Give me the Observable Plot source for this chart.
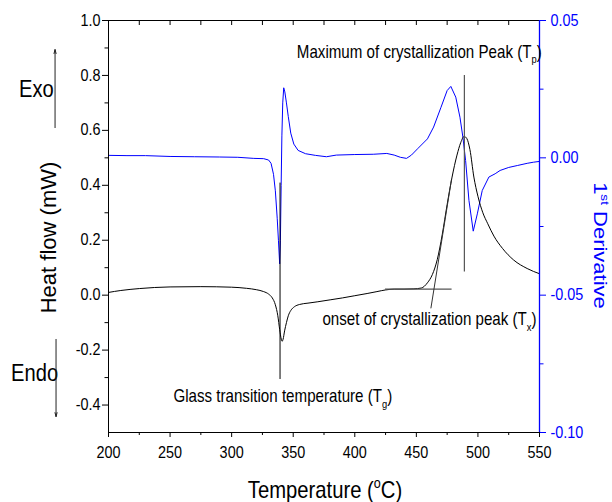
<!DOCTYPE html>
<html><head><meta charset="utf-8">
<script src="https://cdn.jsdelivr.net/npm/d3@7"></script>
<script src="https://cdn.jsdelivr.net/npm/@observablehq/plot@0.6"></script>
<style>
html,body{margin:0;padding:0;background:#fff;}
#chart{width:612px;height:502px;overflow:hidden;}
</style></head><body><div id="chart"></div>
<script>
// ---- data: DSC heat flow (left axis, mW) ----
const heatT = [200,210,225,250,275,300,312,320,326,330,333,335.5,337.5,339,340.3,341,341.8,343,344.5,346,348,351,355,362,370,380,390,400,410,418,425,432,440,448,454,459,463,467,471,475,479,483,486,488.8,491,493.5,496.7,500,504,508,513,520,529,540,550];
const heatV = [0.010,0.017,0.024,0.030,0.031,0.029,0.025,0.020,0.013,0.004,-0.010,-0.035,-0.075,-0.125,-0.160,-0.168,-0.160,-0.130,-0.100,-0.075,-0.056,-0.042,-0.034,-0.029,-0.024,-0.017,-0.010,-0.002,0.006,0.013,0.019,0.022,0.022,0.023,0.026,0.045,0.075,0.130,0.220,0.330,0.430,0.510,0.555,0.578,0.570,0.530,0.430,0.360,0.300,0.260,0.215,0.170,0.128,0.097,0.078];
// ---- data: 1st derivative (right axis) ----
const derivT = [200,215,230,250,270,290,305,318,326,330,332,334,335.5,337,338,339,339.6,340.2,340.8,341.5,342.3,343.2,344.5,346,348,350.5,354,360,368,377,385,400,415,426,432,437,442,446,451,459,464,470,475,478,482,485.4,487.8,490,492.7,496.2,499.5,503.5,508.9,514,518,525,532,540,545,550];
const derivV = [0.0009,0.0008,0.0008,0.0005,0.0004,0.0003,0.0002,-0.0002,-0.0003,-0.0008,-0.002,-0.006,-0.012,-0.022,-0.030,-0.0386,-0.030,-0.010,0.008,0.020,0.0255,0.024,0.020,0.015,0.009,0.005,0.0027,0.0015,0.0009,0.0004,0.0010,0.0012,0.0013,0.0016,0.0010,0.0002,-0.0002,0.0010,0.0033,0.0069,0.0112,0.0184,0.0245,0.026,0.0221,0.0148,0.0075,-0.001,-0.0155,-0.0267,-0.0204,-0.0119,-0.007,-0.0058,-0.0046,-0.0035,-0.0028,-0.0020,-0.0016,-0.0013];

// ---- axes ----
const xDomain = [200, 550];
const yDomain = [-0.5, 1.0];
const rightDomain = [-0.10, 0.05];
const xTicks = [200,250,300,350,400,450,500,550];
const xMinorTicks = [225,275,325,375,425,475,525];
const topTicks = [225,250,275,300,325,350,375,400,425,450,475,500,525];
const leftTicks = [-0.4,-0.2,0,0.2,0.4,0.6,0.8,1.0];
const leftTickLabels = ["-0.4","-0.2","0.0","0.2","0.4","0.6","0.8","1.0"];
const leftMinorTicks = [-0.3,-0.1,0.1,0.3,0.5,0.7,0.9];
const rightTicks = [0.05,0.00,-0.05,-0.10];
const rightTickLabels = ["0.05","0.00","-0.05","-0.10"];
const rightMinorTicks = [0.025,-0.025,-0.075];

// ---- annotations ----
const tgLine = [{x: 339.3, y1: -0.307, y2: 0.408}];
const tpLine = [{x: 489, y1: 0.084, y2: 0.80}];
const baselineSeg = [{x1: 424.5, x2: 478.6, y1: 0.022, y2: 0.022}];
const tangentSeg = [{x1: 461.8, x2: 478.5, y1: -0.048, y2: 0.42}];
const annotations = [
  {x: 352.9, y: 0.865, text: "Maximum of crystallization Peak (T_{p})"},
  {x: 373.7, y: -0.110, text: "onset of crystallization peak (T_{x})"},
  {x: 252.7, y: -0.390, text: "Glass transition temperature (T_{g})"}
];
const sideLabels = [
  {x: 127.4, y: 0.72, text: "Exo"},
  {x: 120.9, y: -0.311, text: "Endo"}
];
const arrows = [
  {x: 156.6, y1: 0.61, y2: 0.894},
  {x: 157.4, y1: -0.161, y2: -0.442}
];
const xTitle = [{x: 375.8, y: -0.737, text: "Temperature (^{o}C)"}];
const yTitle = [{x: 157.4, y: 0.21, text: "Heat flow (mW)"}];
const y2Title = [{x: 594.0, y: 0.181, text: "1^{st} Derivative"}];

const BLUE = "#0000ff";
// map right-axis (derivative) values onto the left-axis range
const d2v = d => yDomain[0] + (d - rightDomain[0]) / (rightDomain[1] - rightDomain[0]) * (yDomain[1] - yDomain[0]);

const heat = heatT.map((t, i) => ({t, v: heatV[i]}));
const deriv = derivT.map((t, i) => ({t, v: d2v(derivV[i])}));

const W = 612, H = 502, mL = 108, mR = 73, mT = 20, mB = 70;
const frameH = H - mT - mB;
const TICK_FS = 16;

const chart = Plot.plot({
  width: W, height: H,
  marginLeft: mL, marginRight: mR, marginTop: mT, marginBottom: mB,
  style: {fontFamily: "'Liberation Sans', Arial, sans-serif", background: "#fff", color: "#000", overflow: "visible"},
  x: {domain: xDomain, axis: null},
  y: {domain: yDomain, axis: null},
  marks: [
    // curves
    Plot.line(deriv, {x: "t", y: "v", stroke: BLUE, strokeWidth: 1}),
    Plot.line(heat, {x: "t", y: "v", stroke: "#000", strokeWidth: 1, curve: "monotone-x"}),
    // annotation lines
    Plot.ruleX(tgLine, {x: "x", y1: "y1", y2: "y2", stroke: "#000", strokeWidth: 1}),
    Plot.ruleX(tpLine, {x: "x", y1: "y1", y2: "y2", stroke: "#555", strokeWidth: 1.2}),
    Plot.link(baselineSeg, {x1: "x1", x2: "x2", y1: "y1", y2: "y2", stroke: "#555", strokeWidth: 1.2}),
    Plot.link(tangentSeg, {x1: "x1", x2: "x2", y1: "y1", y2: "y2", stroke: "#333", strokeWidth: 1}),
    // frame
    Plot.ruleY([yDomain[1]], {stroke: "#000"}),
    Plot.ruleY([yDomain[0]], {stroke: "#000"}),
    Plot.ruleX([xDomain[0]], {stroke: "#000"}),
    Plot.ruleX([xDomain[1]], {stroke: BLUE, strokeWidth: 1.3}),
    // bottom axis
    Plot.axisX({ticks: xTicks, tickSize: 5, tickPadding: 9, tickFormat: d => String(d), fontSize: TICK_FS, label: null, stroke: "#000", fill: "#000"}),
    Plot.axisX({ticks: xMinorTicks, tickSize: 3, text: null, label: null, stroke: "#000"}),
    // top inward ticks
    Plot.tickX(topTicks, {x: d => d, insetBottom: frameH - 5, stroke: "#000"}),
    // left axis
    Plot.axisY({ticks: leftTicks, tickSize: 6, tickPadding: 2, tickFormat: v => leftTickLabels[leftTicks.findIndex(t => Math.abs(t - v) < 1e-9)], fontSize: TICK_FS, label: null, stroke: "#000", fill: "#000"}),
    Plot.axisY({ticks: leftMinorTicks, tickSize: 3.5, text: null, label: null, stroke: "#000"}),
    // right axis (derivative)
    Plot.axisY({anchor: "right", ticks: rightTicks.map(d2v), tickSize: 6, tickPadding: 5, tickFormat: v => rightTickLabels[rightTicks.findIndex(t => Math.abs(d2v(t) - v) < 1e-9)], fontSize: TICK_FS, label: null, stroke: BLUE, fill: BLUE}),
    Plot.axisY({anchor: "right", ticks: rightMinorTicks.map(d2v), tickSize: 3.5, text: null, label: null, stroke: BLUE}),
    // texts
    Plot.text(annotations, {x: "x", y: "y", text: "text", textAnchor: "start", lineAnchor: "bottom", fontSize: 17.5, fill: "#000"}),
    Plot.text(sideLabels, {x: "x", y: "y", text: "text", textAnchor: "start", lineAnchor: "bottom", fontSize: 24, fill: "#000"}),
    Plot.arrow(arrows, {x: "x", y1: "y1", y2: "y2", stroke: "#222", strokeWidth: 1, headLength: 6, headAngle: 30}),
    Plot.text(xTitle, {x: "x", y: "y", text: "text", textAnchor: "middle", lineAnchor: "bottom", fontSize: 23, fill: "#000"}),
    Plot.text(yTitle, {x: "x", y: "y", text: "text", textAnchor: "middle", lineAnchor: "bottom", rotate: -90, fontSize: 22, fill: "#000"}),
    Plot.text(y2Title, {x: "x", y: "y", text: "text", textAnchor: "middle", lineAnchor: "bottom", rotate: 90, fontSize: 22, fill: BLUE})
  ]
});
document.getElementById("chart").appendChild(chart);

const plain = s => s.replace(/[_^]\{([^}]*)\}/g, "$1");
const squishScale = new Map();
annotations.forEach(d => squishScale.set(plain(d.text), 0.865));
sideLabels.forEach(d => squishScale.set(plain(d.text), 0.84));
xTitle.forEach(d => squishScale.set(plain(d.text), 0.88));
[...xTicks.map(String), ...leftTickLabels, ...rightTickLabels].forEach(s => squishScale.set(s, 0.9));
const squishRot = new Set(y2Title.map(d => plain(d.text)));

// narrow glyph look of the original (condensed text)
function squish(el, sx, sy) {
  let tr = el.getAttribute("transform");
  if (!tr) {
    const x = +el.getAttribute("x") || 0, y = +el.getAttribute("y") || 0;
    el.removeAttribute("x"); el.removeAttribute("y");
    tr = `translate(${x},${y})`;
  }
  el.setAttribute("transform", `${tr} scale(${sx},${sy})`);
}

chart.querySelectorAll("text").forEach(el => {
  const s = el.textContent;
  const p = plain(s);
  if (/[_^]\{/.test(s)) {
    // rich text: _{sub} and ^{sup}
    const fs = parseFloat(getComputedStyle(el).fontSize) || 15;
    const ns = "http://www.w3.org/2000/svg";
    while (el.firstChild) el.removeChild(el.firstChild);
    const re = /([_^])\{([^}]*)\}/g;
    let last = 0, m, shift = 0;
    const add = (txt, dy, small) => {
      const t = document.createElementNS(ns, "tspan");
      t.textContent = txt;
      if (dy) t.setAttribute("dy", dy);
      if (small) t.setAttribute("font-size", (fs * 0.62).toFixed(1));
      el.appendChild(t);
    };
    while ((m = re.exec(s))) {
      if (m.index > last) { add(s.slice(last, m.index), -shift, false); shift = 0; }
      const d = m[1] === "_" ? fs * 0.3 : -fs * 0.42;
      add(m[2], d, true);
      shift = d;
      last = re.lastIndex;
    }
    if (last < s.length) add(s.slice(last), -shift, false);
  }
  if (squishScale.has(p)) squish(el, squishScale.get(p), 1);
  else if (squishRot.has(p)) squish(el, 1, 0.8);
});
</script></body></html>
